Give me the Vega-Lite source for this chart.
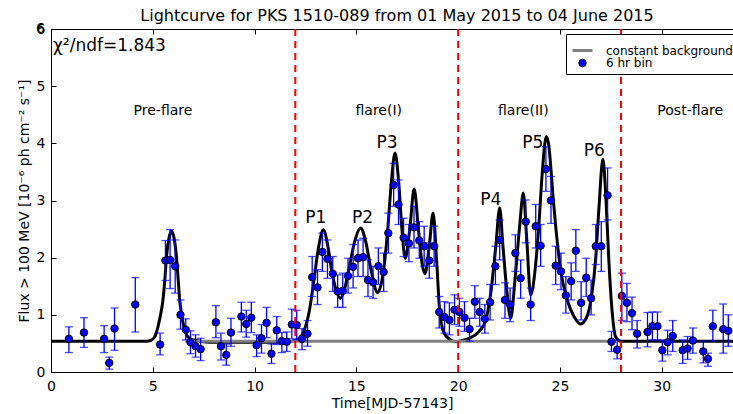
{
  "$schema": "https://vega.github.io/schema/vega-lite/v6.json",
  "width": 682,
  "height": 343,
  "autosize": {"type": "none"},
  "padding": {"left": 51, "top": 29, "right": 0, "bottom": 42},
  "title": {"text": "Lightcurve for PKS 1510-089 from 01 May 2015 to 04 June 2015", "font": "DejaVu Sans", "fontSize": 16, "fontWeight": "normal", "color": "black", "frame": "group", "anchor": "middle", "offset": -2, "dx": 5},
  "datasets": {
    "pts": [
      {"t":0.88,"f":0.58,"lo":0.34,"hi":0.79,"series":"6 hr bin"},
      {"t":1.62,"f":0.69,"lo":0.43,"hi":0.95,"series":"6 hr bin"},
      {"t":2.61,"f":0.58,"lo":0.34,"hi":0.81,"series":"6 hr bin"},
      {"t":2.86,"f":0.16,"lo":0.05,"hi":0.26,"series":"6 hr bin"},
      {"t":3.12,"f":0.76,"lo":0.38,"hi":1.12,"series":"6 hr bin"},
      {"t":4.14,"f":1.18,"lo":0.70,"hi":1.65,"series":"6 hr bin"},
      {"t":5.36,"f":0.48,"lo":0.30,"hi":0.68,"series":"6 hr bin"},
      {"t":5.62,"f":1.95,"lo":1.60,"hi":2.30,"series":"6 hr bin"},
      {"t":5.85,"f":1.96,"lo":1.46,"hi":2.49,"series":"6 hr bin"},
      {"t":6.10,"f":1.85,"lo":1.38,"hi":2.31,"series":"6 hr bin"},
      {"t":6.36,"f":1.00,"lo":0.75,"hi":1.26,"series":"6 hr bin"},
      {"t":6.62,"f":0.74,"lo":0.56,"hi":0.93,"series":"6 hr bin"},
      {"t":6.85,"f":0.52,"lo":0.32,"hi":0.72,"series":"6 hr bin"},
      {"t":7.10,"f":0.45,"lo":0.26,"hi":0.65,"series":"6 hr bin"},
      {"t":7.35,"f":0.40,"lo":0.20,"hi":0.59,"series":"6 hr bin"},
      {"t":8.10,"f":0.87,"lo":0.60,"hi":1.16,"series":"6 hr bin"},
      {"t":8.35,"f":0.45,"lo":0.21,"hi":0.68,"series":"6 hr bin"},
      {"t":8.61,"f":0.30,"lo":0.12,"hi":0.49,"series":"6 hr bin"},
      {"t":8.84,"f":0.69,"lo":0.45,"hi":0.94,"series":"6 hr bin"},
      {"t":9.35,"f":0.97,"lo":0.70,"hi":1.22,"series":"6 hr bin"},
      {"t":9.59,"f":0.84,"lo":0.61,"hi":1.08,"series":"6 hr bin"},
      {"t":9.84,"f":0.95,"lo":0.69,"hi":1.22,"series":"6 hr bin"},
      {"t":10.10,"f":0.47,"lo":0.27,"hi":0.65,"series":"6 hr bin"},
      {"t":10.34,"f":0.59,"lo":0.33,"hi":0.83,"series":"6 hr bin"},
      {"t":10.59,"f":0.86,"lo":0.60,"hi":1.13,"series":"6 hr bin"},
      {"t":10.83,"f":0.32,"lo":0.15,"hi":0.49,"series":"6 hr bin"},
      {"t":11.09,"f":0.73,"lo":0.48,"hi":0.97,"series":"6 hr bin"},
      {"t":11.34,"f":0.54,"lo":0.34,"hi":0.69,"series":"6 hr bin"},
      {"t":11.58,"f":0.53,"lo":0.36,"hi":0.70,"series":"6 hr bin"},
      {"t":11.83,"f":0.83,"lo":0.58,"hi":1.10,"series":"6 hr bin"},
      {"t":12.07,"f":0.82,"lo":0.56,"hi":1.08,"series":"6 hr bin"},
      {"t":12.33,"f":0.58,"lo":0.39,"hi":0.76,"series":"6 hr bin"},
      {"t":12.60,"f":0.67,"lo":0.45,"hi":0.90,"series":"6 hr bin"},
      {"t":12.83,"f":1.66,"lo":1.32,"hi":2.02,"series":"6 hr bin"},
      {"t":13.09,"f":1.48,"lo":1.18,"hi":1.79,"series":"6 hr bin"},
      {"t":13.33,"f":2.10,"lo":1.76,"hi":2.43,"series":"6 hr bin"},
      {"t":13.58,"f":1.98,"lo":1.64,"hi":2.31,"series":"6 hr bin"},
      {"t":13.84,"f":1.72,"lo":1.41,"hi":2.02,"series":"6 hr bin"},
      {"t":14.08,"f":1.41,"lo":1.13,"hi":1.70,"series":"6 hr bin"},
      {"t":14.33,"f":1.42,"lo":1.13,"hi":1.73,"series":"6 hr bin"},
      {"t":14.59,"f":1.68,"lo":1.38,"hi":1.99,"series":"6 hr bin"},
      {"t":14.84,"f":1.84,"lo":1.47,"hi":2.23,"series":"6 hr bin"},
      {"t":15.08,"f":1.99,"lo":1.67,"hi":2.31,"series":"6 hr bin"},
      {"t":15.33,"f":2.01,"lo":1.67,"hi":2.34,"series":"6 hr bin"},
      {"t":15.57,"f":1.61,"lo":1.32,"hi":1.96,"series":"6 hr bin"},
      {"t":15.82,"f":1.57,"lo":1.29,"hi":1.85,"series":"6 hr bin"},
      {"t":16.08,"f":1.85,"lo":1.53,"hi":2.17,"series":"6 hr bin"},
      {"t":16.34,"f":1.75,"lo":1.41,"hi":2.08,"series":"6 hr bin"},
      {"t":16.57,"f":2.43,"lo":2.08,"hi":2.78,"series":"6 hr bin"},
      {"t":16.83,"f":3.27,"lo":2.90,"hi":3.65,"series":"6 hr bin"},
      {"t":17.07,"f":2.93,"lo":2.58,"hi":3.36,"series":"6 hr bin"},
      {"t":17.32,"f":2.35,"lo":2.02,"hi":2.69,"series":"6 hr bin"},
      {"t":17.58,"f":2.25,"lo":1.93,"hi":2.58,"series":"6 hr bin"},
      {"t":17.83,"f":2.53,"lo":2.17,"hi":2.90,"series":"6 hr bin"},
      {"t":18.09,"f":2.30,"lo":1.99,"hi":2.63,"series":"6 hr bin"},
      {"t":18.33,"f":2.20,"lo":1.85,"hi":2.55,"series":"6 hr bin"},
      {"t":18.58,"f":1.95,"lo":1.64,"hi":2.26,"series":"6 hr bin"},
      {"t":18.82,"f":2.20,"lo":1.85,"hi":2.55,"series":"6 hr bin"},
      {"t":19.07,"f":1.05,"lo":0.77,"hi":1.32,"series":"6 hr bin"},
      {"t":19.33,"f":0.96,"lo":0.68,"hi":1.23,"series":"6 hr bin"},
      {"t":19.57,"f":0.91,"lo":0.65,"hi":1.21,"series":"6 hr bin"},
      {"t":19.82,"f":1.09,"lo":0.83,"hi":1.35,"series":"6 hr bin"},
      {"t":20.06,"f":1.05,"lo":0.80,"hi":1.29,"series":"6 hr bin"},
      {"t":20.31,"f":0.95,"lo":0.71,"hi":1.23,"series":"6 hr bin"},
      {"t":20.56,"f":0.75,"lo":0.54,"hi":0.94,"series":"6 hr bin"},
      {"t":20.82,"f":1.23,"lo":0.94,"hi":1.51,"series":"6 hr bin"},
      {"t":21.06,"f":1.05,"lo":0.80,"hi":1.29,"series":"6 hr bin"},
      {"t":21.31,"f":0.93,"lo":0.68,"hi":1.18,"series":"6 hr bin"},
      {"t":21.57,"f":1.22,"lo":0.91,"hi":1.53,"series":"6 hr bin"},
      {"t":21.83,"f":1.85,"lo":1.53,"hi":2.20,"series":"6 hr bin"},
      {"t":22.04,"f":2.31,"lo":1.96,"hi":2.66,"series":"6 hr bin"},
      {"t":22.30,"f":1.26,"lo":0.94,"hi":1.56,"series":"6 hr bin"},
      {"t":22.55,"f":1.18,"lo":0.88,"hi":1.47,"series":"6 hr bin"},
      {"t":22.81,"f":2.08,"lo":1.76,"hi":2.40,"series":"6 hr bin"},
      {"t":23.07,"f":1.64,"lo":1.29,"hi":1.96,"series":"6 hr bin"},
      {"t":23.32,"f":2.63,"lo":2.26,"hi":3.01,"series":"6 hr bin"},
      {"t":23.56,"f":1.18,"lo":0.90,"hi":1.47,"series":"6 hr bin"},
      {"t":23.81,"f":2.55,"lo":2.17,"hi":2.93,"series":"6 hr bin"},
      {"t":24.05,"f":2.21,"lo":1.85,"hi":2.58,"series":"6 hr bin"},
      {"t":24.31,"f":3.55,"lo":3.16,"hi":3.94,"series":"6 hr bin"},
      {"t":24.56,"f":3.00,"lo":2.60,"hi":3.42,"series":"6 hr bin"},
      {"t":24.79,"f":1.86,"lo":1.53,"hi":2.20,"series":"6 hr bin"},
      {"t":25.05,"f":1.76,"lo":1.44,"hi":2.08,"series":"6 hr bin"},
      {"t":25.29,"f":1.34,"lo":1.03,"hi":1.67,"series":"6 hr bin"},
      {"t":25.55,"f":1.59,"lo":1.26,"hi":1.91,"series":"6 hr bin"},
      {"t":25.78,"f":2.12,"lo":1.76,"hi":2.49,"series":"6 hr bin"},
      {"t":26.04,"f":1.21,"lo":0.91,"hi":1.58,"series":"6 hr bin"},
      {"t":26.29,"f":1.65,"lo":1.32,"hi":1.99,"series":"6 hr bin"},
      {"t":26.53,"f":1.29,"lo":1.00,"hi":1.61,"series":"6 hr bin"},
      {"t":26.76,"f":2.20,"lo":1.88,"hi":2.58,"series":"6 hr bin"},
      {"t":27.03,"f":2.20,"lo":1.76,"hi":2.63,"series":"6 hr bin"},
      {"t":27.34,"f":3.09,"lo":2.66,"hi":3.57,"series":"6 hr bin"},
      {"t":27.53,"f":0.53,"lo":0.36,"hi":0.71,"series":"6 hr bin"},
      {"t":27.81,"f":0.39,"lo":0.23,"hi":0.56,"series":"6 hr bin"},
      {"t":28.04,"f":1.33,"lo":0.90,"hi":1.73,"series":"6 hr bin"},
      {"t":28.29,"f":1.21,"lo":0.88,"hi":1.55,"series":"6 hr bin"},
      {"t":28.54,"f":1.03,"lo":0.74,"hi":1.31,"series":"6 hr bin"},
      {"t":28.79,"f":0.67,"lo":0.42,"hi":0.90,"series":"6 hr bin"},
      {"t":29.30,"f":0.70,"lo":0.44,"hi":1.04,"series":"6 hr bin"},
      {"t":29.54,"f":0.80,"lo":0.56,"hi":1.05,"series":"6 hr bin"},
      {"t":29.79,"f":0.80,"lo":0.56,"hi":1.05,"series":"6 hr bin"},
      {"t":30.03,"f":0.38,"lo":0.19,"hi":0.56,"series":"6 hr bin"},
      {"t":30.29,"f":0.52,"lo":0.30,"hi":0.73,"series":"6 hr bin"},
      {"t":30.54,"f":0.63,"lo":0.36,"hi":0.90,"series":"6 hr bin"},
      {"t":31.03,"f":0.38,"lo":0.15,"hi":0.56,"series":"6 hr bin"},
      {"t":31.27,"f":0.41,"lo":0.22,"hi":0.62,"series":"6 hr bin"},
      {"t":31.53,"f":0.55,"lo":0.33,"hi":0.77,"series":"6 hr bin"},
      {"t":32.04,"f":0.36,"lo":0.16,"hi":0.54,"series":"6 hr bin"},
      {"t":32.27,"f":0.23,"lo":0.10,"hi":0.33,"series":"6 hr bin"},
      {"t":32.51,"f":0.80,"lo":0.54,"hi":1.08,"series":"6 hr bin"},
      {"t":33.02,"f":0.75,"lo":0.33,"hi":1.19,"series":"6 hr bin"},
      {"t":33.27,"f":0.72,"lo":0.45,"hi":1.00,"series":"6 hr bin"}
    ],
    "fit": [
      {"t":0,"f":0.54},{"t":4.7,"f":0.54},{"t":4.9,"f":0.55},{"t":5.1,"f":0.62},{"t":5.26,"f":0.80},{"t":5.38,"f":1.0},{"t":5.5,"f":1.26},{"t":5.6,"f":1.65},{"t":5.67,"f":2.0},{"t":5.8,"f":2.35},{"t":5.92,"f":2.46},{"t":6.04,"f":2.35},{"t":6.16,"f":2.02},{"t":6.24,"f":1.65},{"t":6.32,"f":1.26},{"t":6.42,"f":1.0},{"t":6.52,"f":0.80},{"t":6.65,"f":0.66},{"t":6.81,"f":0.59},{"t":7.14,"f":0.55},{"t":7.5,"f":0.53},{"t":8,"f":0.52},{"t":11.5,"f":0.52},{"t":11.96,"f":0.55},{"t":12.2,"f":0.59},{"t":12.45,"f":0.74},{"t":12.7,"f":1.09},{"t":12.94,"f":1.67},{"t":13.15,"f":2.2},{"t":13.38,"f":2.49},{"t":13.6,"f":2.2},{"t":13.81,"f":1.73},{"t":14.0,"f":1.44},{"t":14.2,"f":1.29},{"t":14.41,"f":1.44},{"t":14.66,"f":1.85},{"t":14.9,"f":2.26},{"t":15.21,"f":2.52},{"t":15.46,"f":2.28},{"t":15.72,"f":1.79},{"t":16.04,"f":1.39},{"t":16.29,"f":1.67},{"t":16.54,"f":2.49},{"t":16.7,"f":3.24},{"t":16.9,"f":3.83},{"t":17.07,"f":3.36},{"t":17.24,"f":2.49},{"t":17.4,"f":1.99},{"t":17.62,"f":2.49},{"t":17.84,"f":3.2},{"t":18.05,"f":2.49},{"t":18.25,"f":1.85},{"t":18.37,"f":1.72},{"t":18.58,"f":2.2},{"t":18.77,"f":2.78},{"t":18.94,"f":1.96},{"t":19.1,"f":1.03},{"t":19.31,"f":0.68},{"t":19.56,"f":0.58},{"t":19.89,"f":0.53},{"t":20.2,"f":0.55},{"t":20.54,"f":0.59},{"t":21.03,"f":0.71},{"t":21.36,"f":0.91},{"t":21.6,"f":1.38},{"t":21.85,"f":2.2},{"t":22.04,"f":2.87},{"t":22.2,"f":2.2},{"t":22.37,"f":1.5},{"t":22.58,"f":0.94},{"t":22.79,"f":1.61},{"t":23.02,"f":2.55},{"t":23.2,"f":3.13},{"t":23.37,"f":2.31},{"t":23.56,"f":1.35},{"t":23.78,"f":1.79},{"t":23.97,"f":2.6},{"t":24.13,"f":3.48},{"t":24.33,"f":4.12},{"t":24.46,"f":3.94},{"t":24.56,"f":3.54},{"t":24.66,"f":3.07},{"t":24.79,"f":2.55},{"t":25.03,"f":1.79},{"t":25.36,"f":1.26},{"t":25.69,"f":0.97},{"t":26.01,"f":0.84},{"t":26.29,"f":0.94},{"t":26.55,"f":1.32},{"t":26.75,"f":1.96},{"t":26.91,"f":2.84},{"t":27.11,"f":3.72},{"t":27.27,"f":2.95},{"t":27.4,"f":1.96},{"t":27.57,"f":1.03},{"t":27.73,"f":0.62},{"t":27.97,"f":0.54},{"t":33.5,"f":0.54}
    ],
    "bg": [{"t":6.6,"f":0.54},{"t":27.75,"f":0.54}],
    "vlines": [{"t":12},{"t":20},{"t":28}],
    "regions": [
      {"t":5.5,"f":4.57,"label":"Pre-flare"},
      {"t":16.1,"f":4.57,"label":"flare(I)"},
      {"t":23.2,"f":4.57,"label":"flare(II)"},
      {"t":31.4,"f":4.57,"label":"Post-flare"}
    ],
    "peaks": [
      {"t":13.0,"f":2.70,"label":"P1"},
      {"t":15.3,"f":2.70,"label":"P2"},
      {"t":16.5,"f":4.0,"label":"P3"},
      {"t":21.6,"f":3.01,"label":"P4"},
      {"t":23.66,"f":4.0,"label":"P5"},
      {"t":26.68,"f":3.87,"label":"P6"}
    ],
    "chi": [{"t":0.1,"f":5.7,"label":"χ²/ndf=1.843"}],
    "toplabel": [{"t":-0.3,"f":6,"label":"6"}]
  },
  "resolve": {"axis": {"x": "independent"}},
  "layer": [
    {
      "data": {"name": "fit"},
      "mark": {"type": "line", "color": "black", "strokeWidth": 3, "interpolate": "monotone"},
      "encoding": {
        "x": {"field": "t", "type": "quantitative", "scale": {"domain": [0, 33.5], "nice": false, "zero": false}, "axis": {"values": [0,5,10,15,20,25,30], "format": "d", "title": "Time[MJD-57143]", "orient": "bottom"}},
        "y": {"field": "f", "type": "quantitative", "scale": {"domain": [0, 6], "nice": false}, "axis": {"values": [0,1,2,3,4,5,6], "format": "d", "title": "Flux > 100 MeV [10⁻⁶ ph cm⁻² s⁻¹]"}}
      }
    },
    {
      "data": {"name": "bg"},
      "mark": {"type": "line", "color": "#808080", "strokeWidth": 3},
      "encoding": {
        "x": {"field": "t", "type": "quantitative", "axis": {"orient": "top", "values": [0,5,10,15,20,25,30], "labels": false, "title": null}},
        "y": {"field": "f", "type": "quantitative"}
      }
    },
    {
      "data": {"name": "pts"},
      "mark": {"type": "rule", "color": "#0000ff", "strokeWidth": 1.3},
      "encoding": {
        "x": {"field": "t", "type": "quantitative", "axis": null},
        "y": {"field": "lo", "type": "quantitative"},
        "y2": {"field": "hi"}
      }
    },
    {
      "data": {"name": "pts"},
      "mark": {"type": "tick", "orient": "horizontal", "color": "#0000ff", "size": 8, "thickness": 1.3},
      "encoding": {
        "x": {"field": "t", "type": "quantitative", "axis": null},
        "y": {"field": "lo", "type": "quantitative"}
      }
    },
    {
      "data": {"name": "pts"},
      "mark": {"type": "tick", "orient": "horizontal", "color": "#0000ff", "size": 8, "thickness": 1.3},
      "encoding": {
        "x": {"field": "t", "type": "quantitative", "axis": null},
        "y": {"field": "hi", "type": "quantitative"}
      }
    },
    {
      "data": {"name": "pts"},
      "mark": {"type": "point", "filled": true, "opacity": 1},
      "encoding": {
        "x": {"field": "t", "type": "quantitative", "axis": null},
        "y": {"field": "f", "type": "quantitative"},
        "color": {"field": "series", "type": "nominal", "scale": {"domain": ["constant background", "6 hr bin"], "range": ["#808080", "#0000ff"]}, "legend": {"title": null}},
        "shape": {"field": "series", "type": "nominal", "scale": {"domain": ["constant background", "6 hr bin"], "range": ["stroke", "circle"]}, "legend": {"title": null}},
        "size": {"field": "series", "type": "nominal", "scale": {"domain": ["constant background", "6 hr bin"], "range": [400, 55]}, "legend": {"title": null}},
        "stroke": {"field": "series", "type": "nominal", "scale": {"domain": ["constant background", "6 hr bin"], "range": ["#808080", "#000000"]}, "legend": {"title": null}},
        "strokeWidth": {"field": "series", "type": "nominal", "scale": {"domain": ["constant background", "6 hr bin"], "range": [3, 1]}, "legend": {"title": null}}
      }
    },
    {
      "data": {"name": "vlines"},
      "mark": {"type": "rule", "color": "#ff0000", "strokeWidth": 2, "strokeDash": [7, 5]},
      "encoding": {"x": {"field": "t", "type": "quantitative", "axis": null}}
    },
    {
      "data": {"name": "regions"},
      "mark": {"type": "text", "font": "DejaVu Sans", "fontSize": 14, "color": "black", "align": "center", "baseline": "middle"},
      "encoding": {
        "x": {"field": "t", "type": "quantitative", "axis": null},
        "y": {"field": "f", "type": "quantitative"},
        "text": {"field": "label"}
      }
    },
    {
      "data": {"name": "peaks"},
      "mark": {"type": "text", "font": "DejaVu Sans", "fontSize": 17, "color": "black", "align": "center", "baseline": "middle"},
      "encoding": {
        "x": {"field": "t", "type": "quantitative", "axis": null},
        "y": {"field": "f", "type": "quantitative"},
        "text": {"field": "label"}
      }
    },
    {
      "data": {"name": "chi"},
      "mark": {"type": "text", "font": "DejaVu Sans", "fontSize": 17, "color": "black", "align": "left", "baseline": "middle"},
      "encoding": {
        "x": {"field": "t", "type": "quantitative", "axis": null},
        "y": {"field": "f", "type": "quantitative"},
        "text": {"field": "label"}
      }
    },
    {
      "data": {"name": "toplabel"},
      "mark": {"type": "text", "font": "DejaVu Sans", "fontSize": 14, "color": "black", "align": "right", "baseline": "middle"},
      "encoding": {
        "x": {"field": "t", "type": "quantitative", "axis": null},
        "y": {"field": "f", "type": "quantitative"},
        "text": {"field": "label"}
      }
    }
  ],
  "config": {
    "view": {"stroke": null},
    "axis": {
      "grid": false,
      "domainColor": "black",
      "domainWidth": 1,
      "tickColor": "black",
      "tickSize": -5,
      "labelColor": "black",
      "titleColor": "black",
      "labelFont": "DejaVu Sans",
      "titleFont": "DejaVu Sans",
      "labelFontSize": 14,
      "titleFontSize": 14,
      "titleFontWeight": "normal",
      "labelFlush": false,
      "labelOverlap": false,
      "labelBound": false
    },
    "axisX": {"labelPadding": 12, "titlePadding": 3},
    "axisY": {"labelPadding": 11, "titlePadding": 5},
    "legend": {
      "orient": "none",
      "legendX": 515,
      "legendY": 5,
      "strokeColor": "black",
      "fillColor": "white",
      "padding": 5,
      "cornerRadius": 0,
      "labelFont": "DejaVu Sans",
      "labelFontSize": 12,
      "labelColor": "black",
      "labelOffset": 12,
      "rowPadding": 0,
      "symbolOpacity": 1
    }
  }
}
